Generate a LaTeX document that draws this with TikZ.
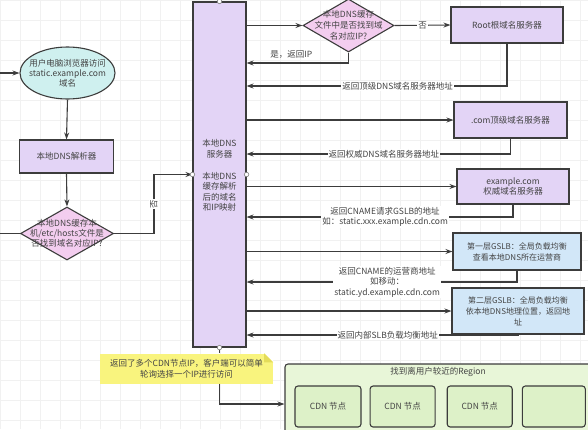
\documentclass[tikz,border=0pt]{standalone}
\usepackage{fontspec}
\setmainfont{Noto Sans CJK SC}
\usetikzlibrary{arrows.meta,shapes.geometric,positioning}

\definecolor{linegray}{HTML}{3C3C3C}
\definecolor{textgray}{HTML}{444444}
\definecolor{gridgray}{HTML}{F1F1F1}
\definecolor{dnspurple}{HTML}{E3D4F6}
\definecolor{usercyan}{HTML}{CFF0EF}
\definecolor{hostspink}{HTML}{F3CDEF}
\definecolor{gslbblue}{HTML}{D2E7F8}
\definecolor{noteyellow}{HTML}{F9F47E}
\definecolor{notefold}{HTML}{E4DC5A}
\definecolor{regiongreen}{HTML}{E8F6D8}
\definecolor{cdngreen}{HTML}{DDF1C8}

\tikzset{
  box/.style={draw=linegray, line width=1.1pt, fill=dnspurple, inner sep=0pt,
    align=center, text=textgray},
  txt/.style={align=center, text=textgray, inner sep=0pt},
  conn/.style={draw=linegray, line width=1.1pt, -{Stealth[length=7pt,width=5pt]}},
  link/.style={draw=linegray, line width=1.1pt},
  lbl/.style={fill=white, inner sep=1pt, align=center, text=textgray},
  port/.style={circle, draw=gray, fill=white, line width=0.6pt, inner sep=0pt, minimum size=4.5pt},
}

\begin{document}
\begin{tikzpicture}[x=1pt, y=-1pt, font=\fontsize{8.5}{10.5}\selectfont]
\useasboundingbox (0,0) rectangle (588,429);
\fill[white] (0,0) rectangle (588,429);
\draw[gridgray, line width=0.5pt] (0,429) grid[step=20pt] (588,0);

% local DNS server
\node[box, minimum width=53pt, minimum height=345pt] (local) at (219.5,174.5) {};
\node[txt] (localtxt) at (219.5,149) {本地DNS\\服务器};
\node[txt] (cachetxt) at (219.5,192) {本地DNS\\缓存解析\\后的域名\\和IP映射};

% client side
\node[ellipse, draw=linegray, line width=1.1pt, fill=usercyan, minimum width=95pt,
  minimum height=52pt, inner sep=0pt] (user) at (67.5,73) {};
\node[txt, font=\fontsize{8.5}{10}\selectfont] (usertxt) at (user) {用户电脑浏览器访问\\static.example.com\\域名};
\node[box, minimum width=94pt, minimum height=33pt] (resolver) at (66.5,156.5) {本地DNS解析器};
\node[diamond, draw=linegray, line width=1.1pt, fill=hostspink, minimum width=93pt,
  minimum height=53pt, inner sep=0pt] (hosts) at (67,233.5) {};
\node[txt, font=\fontsize{8.5}{10}\selectfont] (hoststxt) at (hosts) {本地DNS缓存本\\机/etc/hosts文件是\\否找到域名对应IP?};

% server side
\node[diamond, draw=linegray, line width=1.1pt, fill=hostspink, minimum width=91pt,
  minimum height=53pt, inner sep=0pt] (check) at (348.5,25.5) {};
\node[txt, font=\fontsize{8.5}{11}\selectfont] (checktxt) at (check) {本地DNS缓存\\文件中是否找到域\\名对应IP?};
\node[box, minimum width=112pt, minimum height=36pt] (root) at (507,25) {Root根域名服务器};
\node[box, minimum width=113pt, minimum height=36pt] (com) at (510.5,120) {.com顶级域名服务器};
\node[box, minimum width=112pt, minimum height=35pt] (auth) at (513,186.5) {example.com\\权威域名服务器};
\node[box, fill=gslbblue, minimum width=128pt, minimum height=37pt,
  font=\fontsize{8}{11}\selectfont] (gslb1) at (517,251.5) {第一层GSLB：全局负载均衡\\查看本地DNS所在运营商};
\node[box, fill=gslbblue, minimum width=132pt, minimum height=46pt,
  font=\fontsize{8}{11}\selectfont] (gslb2) at (518,311) {第二层GSLB：全局负载均衡\\依本地DNS地理位置，返回地\\址};

% CDN region
\node[box, fill=regiongreen, rounded corners=3pt, minimum width=320pt, minimum height=80pt]
  (region) at (445,404) {};
\node[txt] (regiontxt) at (438,372) {找到离用户较近的Region};
\node[box, fill=cdngreen, rounded corners=3pt, minimum width=66pt, minimum height=41pt]
  (cdn1) at (328,406.5) {CDN 节点};
\node[box, fill=cdngreen, rounded corners=3pt, minimum width=65pt, minimum height=41pt,
  right=8pt of cdn1] (cdn2) {CDN 节点};
\node[box, fill=cdngreen, rounded corners=3pt, minimum width=65pt, minimum height=41pt,
  right=11pt of cdn2] (cdn3) {CDN 节点};
\node[box, fill=cdngreen, rounded corners=3pt, minimum width=63pt, minimum height=41pt,
  right=9pt of cdn3] (cdn4) {};

% note
\node[fill=noteyellow, minimum width=173pt, minimum height=30pt, inner sep=0pt,
  align=center, text=textgray] (note) at (186.5,368.5) {返回了多个CDN节点IP，客户端可以简单\\轮询选择一个IP进行访问};
\fill[white] ([xshift=-9pt]note.north east) -- (note.north east) -- ([yshift=-9pt]note.north east) -- cycle;
\fill[notefold] ([xshift=-9pt]note.north east) -- ([yshift=-9pt]note.north east)
  -- ([xshift=-9pt,yshift=-9pt]note.north east) -- cycle;

% levels of the return lines
\coordinate (yeslvl) at (0,63);
\coordinate (toplvl) at (0,86);
\coordinate (comlvl) at (0,154);
\coordinate (authlvl) at (0,217);
\coordinate (gslb1lvl) at (0,282);
\coordinate (gslb2lvl) at (0,335);
\coordinate (bend) at (154,0);
\coordinate (userin) at (0,73);
\coordinate (hostsout) at (0,233.5);

% client flow
\draw[conn] (userin) -- (user.west);
\draw[conn] (user.south) -- (resolver.north);
\draw[conn] (resolver.south) -- (hosts.north);
\draw[link] (hosts.west) -- (hostsout);
\draw[conn] (hosts.east) -| node[lbl, pos=0.75, rotate=90] {否} (bend |- local.west) -- (local.west);

% queries and answers
\draw[conn] (local.east |- check.west) -- (check.west);
\draw[conn] (check.east) -- node[lbl] {否} (root.west);
\draw[conn] (check.south) |- node[txt, pos=0.78, above=4pt] {是，返回IP} (local.east |- yeslvl);
\draw[conn] (root.south) |- node[lbl, pos=0.71] {返回顶级DNS域名服务器地址} (local.east |- toplvl);
\draw[conn] (local.east |- com.west) -- (com.west);
\draw[conn] (com.south) |- node[lbl, pos=0.74] {返回权威DNS域名服务器地址} (local.east |- comlvl);
\draw[conn] (local.east |- auth.west) -- (auth.west);
\draw[conn] (auth.south) |- node[lbl, pos=0.74] {返回CNAME请求GSLB的地址\\如：static.xxx.example.cdn.com} (local.east |- authlvl);
\draw[conn] (local.east |- gslb1.west) -- (gslb1.west);
\draw[conn] (gslb1.south) |- node[lbl, pos=0.74] {返回CNAME的运营商地址\\如移动：\\static.yd.example.cdn.com} (local.east |- gslb1lvl);
\draw[conn] (local.east |- gslb2.west) -- (gslb2.west);
\draw[conn] (gslb2.south) |- node[lbl, pos=0.74] {返回内部SLB负载均衡地址} (local.east |- gslb2lvl);

% to the CDN nodes
\draw[link] (local.south) -- (local.south |- note.north);
\draw[conn] (local.south |- note.south) |- (region.west);

% ports
\node[port] (porttop) at (local.north) {};
\node[port] (portleft) at (local.west) {};
\node[port] (portright) at (local.east) {};
\node[port] (portbot) at (local.south) {};
\end{tikzpicture}
\end{document}
